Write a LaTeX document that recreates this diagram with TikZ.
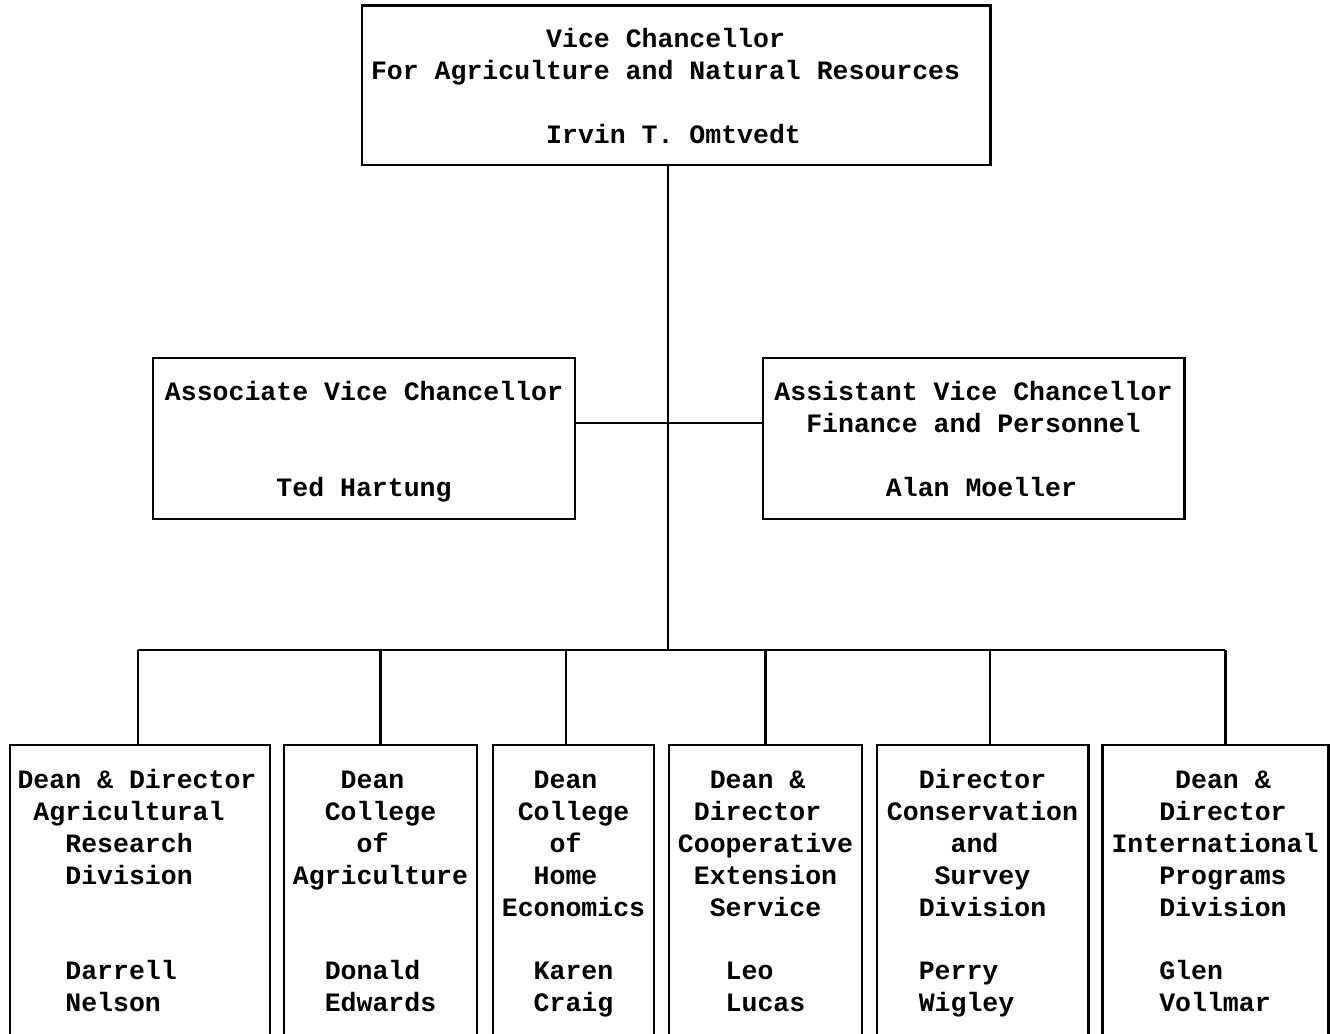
\documentclass[tikz,border=0pt]{standalone}
\usepackage{fontspec}
\setmonofont{Liberation Mono}
\newcommand\tstrut{\rule{0pt}{16.6pt}}
\begin{document}
\begin{tikzpicture}[line width=1.7pt,
  office/.style={draw,inner sep=0pt,align=left,font=\ttfamily\bfseries\fontsize{15.1}{18.1}\selectfont},
  dean/.style={office,minimum height=5.82cm,anchor=center}]
\useasboundingbox (0,0) rectangle (26.6,-20.68);
\pgfmathsetmacro{\busy}{-13}
\node[office,minimum width=12.56cm,minimum height=3.18cm] (vc) at (13.52,-1.71)
  {\tstrut~~~~~~~~~~~Vice Chancellor\\For Agriculture and Natural Resources\\\rule{12.2cm}{0pt}\\~~~~~~~~~~~Irvin T. Omtvedt\strut};
\node[office,minimum width=8.44cm,minimum height=3.22cm] (avc) at (7.28,-8.77)
  {\tstrut Associate Vice Chancellor\\~\\~\\~~~~~~~Ted Hartung\strut};
\node[office,minimum width=8.42cm,minimum height=3.22cm] (svc) at (19.47,-8.77)
  {\tstrut Assistant Vice Chancellor\\~~Finance and Personnel\\~\\~~~~~~~Alan Moeller\strut};
\node[dean,minimum width=5.2cm] (b1) at (2.8,-17.81)
  {\tstrut Dean \& Director\hspace*{0.12cm}\\~Agricultural\\~~~Research\\~~~Division\\~\\~\\~~~Darrell\\~~~Nelson\strut};
\node[dean,minimum width=3.86cm] (b2) at (7.61,-17.81)
  {\tstrut~~~Dean\\~~College\\~~~~of\\Agriculture\\~\\~\\~~Donald\\~~Edwards\strut};
\node[dean,minimum width=3.22cm] (b3) at (11.47,-17.81)
  {\tstrut~~Dean\\~College\\~~~of\\~~Home\\Economics\\~\\~~Karen\\~~Craig\strut};
\node[dean,minimum width=3.86cm] (b4) at (15.31,-17.81)
  {\tstrut~~Dean \&\\~Director\\Cooperative\\~Extension\\~~Service\\~\\~~~Leo\\~~~Lucas\strut};
\node[dean,minimum width=4.22cm] (b5) at (19.65,-17.81)
  {\tstrut~~Director\\Conservation\\~~~~and\\~~~Survey\\~~Division\\~\\~~Perry\\~~Wigley\strut};
\node[dean,minimum width=4.52cm] (b6) at (24.3,-17.81)
  {\tstrut~~~~Dean \&\\~~~Director\\International\\~~~Programs\\~~~Division\\~\\~~~Glen\\~~~Vollmar\strut};
\coordinate (trunk) at ([xshift=-0.16cm]vc.south);
\draw (trunk)--(trunk|-0,\busy);
\draw ([yshift=0.31cm]avc.east)--([yshift=0.31cm]svc.west);
\draw ([xshift=-0.04cm]b1.north|-0,\busy)--([xshift=0.2cm]b6.north|-0,\busy);
\foreach \b/\dx in {b1/-0.04,b2/0,b3/-0.15,b4/0,b5/0.15,b6/0.2}
  \draw ([xshift=\dx cm]\b.north)--([xshift=\dx cm]\b.north|-0,\busy);
\end{tikzpicture}
\end{document}
